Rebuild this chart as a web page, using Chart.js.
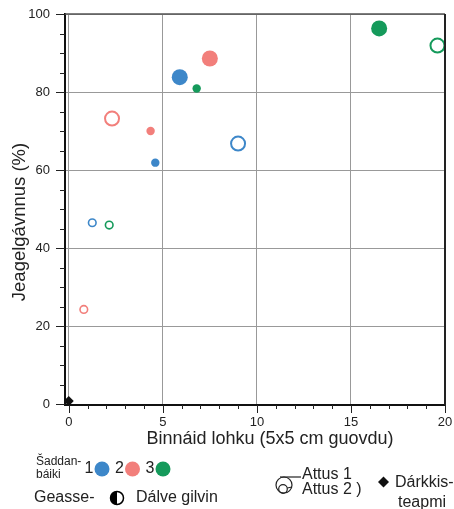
<!DOCTYPE html>
<html>
<head>
<meta charset="utf-8">
<script src="https://cdn.jsdelivr.net/npm/chart.js@4/dist/chart.umd.min.js"></script>
<style>
  html, body { margin: 0; padding: 0; background: #fff; }
  #wrap { width: 454px; height: 509px; }
</style>
</head>
<body>
<div id="wrap"><canvas id="chart" width="454" height="509"></canvas></div>
<script>
// values
// each site: [summer Attus 1, summer Attus 2, winter Attus 1, winter Attus 2]
const site1X = [5.9, 4.6, 9.0, 1.25];
const site1Y = [83.8, 61.9, 66.8, 46.5];
const site2X = [7.5, 4.35, 2.3, 0.8];
const site2Y = [88.6, 70.0, 73.2, 24.3];
const site3X = [16.5, 6.8, 19.6, 2.15];
const site3Y = [96.3, 80.9, 91.9, 45.9];
const seasons = ['Geasse', 'Geasse', 'Dálve', 'Dálve'];
const attus = [1, 2, 1, 2];
const controlX = [0];
const controlY = [0.8];

const xTicks = [0, 5, 10, 15, 20];
const yTicks = [0, 20, 40, 60, 80, 100];

const siteColors = ['#3d87c9', '#f27f7b', '#159a5b'];
const FONT = '"Liberation Sans", Arial, sans-serif';
const TEXT = '#222';

const toPoints = (xs, ys) => xs.map((x, i) => ({ x: x, y: ys[i] }));

const siteDataset = (label, xs, ys, color) => ({
    label: label,
    data: toPoints(xs, ys),
    pointRadius: seasons.map((s, i) => s === 'Geasse' ? (attus[i] === 1 ? 8 : 4.2) : (attus[i] === 1 ? 7 : 3.8)),
    pointBorderWidth: seasons.map((s, i) => s === 'Geasse' ? 0 : (attus[i] === 1 ? 2 : 1.6)),
    pointBackgroundColor: seasons.map(s => s === 'Geasse' ? color : 'rgba(0,0,0,0)'),
    pointBorderColor: color,
    showLine: false
});

const line = (ctx, x1, y1, x2, y2) => {
    ctx.beginPath();
    ctx.moveTo(x1, y1);
    ctx.lineTo(x2, y2);
    ctx.stroke();
};

const dot = (ctx, x, y, r, color) => {
    ctx.beginPath();
    ctx.arc(x, y, r, 0, Math.PI * 2);
    ctx.fillStyle = color;
    ctx.fill();
};

// ticks, frame, axis titles and the legend
const overlay = {
    id: 'overlay',
    afterDraw(chart) {
        const ctx = chart.ctx;
        const area = chart.chartArea;
        const xs = chart.scales.x;
        const ys = chart.scales.y;
        ctx.save();
        ctx.strokeStyle = TEXT;
        ctx.lineWidth = 1;
        for (let v = 0; v <= 20; v++) {
            const px = Math.round(xs.getPixelForValue(v)) + 0.5;
            line(ctx, px, area.bottom, px, area.bottom + (v % 5 === 0 ? 8 : 4));
        }
        for (let v = 0; v <= 100; v += 5) {
            const py = Math.round(ys.getPixelForValue(v)) + 0.5;
            line(ctx, area.left - (v % 20 === 0 ? 9 : 5), py, area.left, py);
        }
        // top and right frame
        ctx.strokeStyle = '#555';
        ctx.lineWidth = 1.5;
        line(ctx, area.left, area.top, area.right, area.top);
        ctx.strokeStyle = '#222';
        ctx.lineWidth = 2;
        line(ctx, area.right, area.top, area.right, area.bottom);

        // axis titles
        ctx.fillStyle = TEXT;
        ctx.font = '18px ' + FONT;
        ctx.textAlign = 'center';
        ctx.textBaseline = 'middle';
        ctx.fillText('Binnáid lohku (5x5 cm guovdu)', 270, 439);
        ctx.save();
        ctx.translate(20, 222);
        ctx.rotate(-Math.PI / 2);
        ctx.font = '18.5px ' + FONT;
        ctx.fillText('Jeagelgávnnus (%)', 0, 0);
        ctx.restore();

        // legend: sites
        ctx.textAlign = 'left';
        ctx.font = '12px ' + FONT;
        ctx.fillText('Šaddan-', 36, 462);
        ctx.fillText('báiki', 36, 475);
        ctx.font = '16px ' + FONT;
        ctx.textAlign = 'center';
        ['1', '2', '3'].forEach((s, i) => {
            const cx = 89 + i * 30.5;
            ctx.fillStyle = TEXT;
            ctx.fillText(s, cx, 469);
            dot(ctx, cx + 13, 469, 7.5, siteColors[i]);
        });

        // legend: seasons
        ctx.textAlign = 'left';
        ctx.fillStyle = TEXT;
        ctx.fillText('Geasse-', 34, 498);
        ctx.fillText('Dálve gilvin', 136, 498);
        dot(ctx, 117, 498, 6.5, '#fff');
        ctx.beginPath();
        ctx.arc(117, 498, 6.5, Math.PI / 2, Math.PI * 1.5);
        ctx.fillStyle = '#000';
        ctx.fill();
        ctx.beginPath();
        ctx.arc(117, 498, 6.5, 0, Math.PI * 2);
        ctx.strokeStyle = '#000';
        ctx.lineWidth = 1.5;
        ctx.stroke();

        // legend: size
        ctx.strokeStyle = TEXT;
        ctx.lineWidth = 1.2;
        ctx.beginPath();
        ctx.arc(284, 485, 8, 0, Math.PI * 2);
        ctx.stroke();
        ctx.beginPath();
        ctx.arc(283, 489, 4.3, 0, Math.PI * 2);
        ctx.stroke();
        line(ctx, 280, 477, 301, 477);
        line(ctx, 287.3, 488, 292, 487);
        ctx.fillStyle = TEXT;
        ctx.fillText('Attus 1', 302, 475);
        ctx.fillText('Attus 2 )', 302, 490);

        // legend: control
        ctx.beginPath();
        ctx.moveTo(383.5, 476.5);
        ctx.lineTo(389, 482);
        ctx.lineTo(383.5, 487.5);
        ctx.lineTo(378, 482);
        ctx.closePath();
        ctx.fillStyle = '#111';
        ctx.fill();
        ctx.fillStyle = TEXT;
        ctx.fillText('Dárkkis-', 395, 483);
        ctx.fillText('teapmi', 398, 503);
        ctx.restore();
    }
};

new Chart(document.getElementById('chart'), {
    type: 'scatter',
    data: {
        datasets: [
            siteDataset('1', site1X, site1Y, siteColors[0]),
            siteDataset('2', site2X, site2Y, siteColors[1]),
            siteDataset('3', site3X, site3Y, siteColors[2]),
            {
                label: 'Dárkkisteapmi',
                data: toPoints(controlX, controlY),
                pointStyle: 'rectRot',
                pointRadius: 5,
                pointBorderWidth: 0,
                pointBackgroundColor: '#111',
                pointBorderColor: '#111'
            }
        ]
    },
    options: {
        responsive: false,
        animation: false,
        layout: { padding: { left: 0, top: 14, right: 7, bottom: 0 } },
        plugins: {
            legend: { display: false },
            tooltip: { enabled: false }
        },
        scales: {
            x: {
                type: 'linear',
                min: -0.2,
                max: 20,
                afterBuildTicks: (scale) => { scale.ticks = xTicks.map(v => ({ value: v })); },
                afterFit: (scale) => {
                    scale.height = 104;
                    scale.paddingLeft = 0;
                    scale.paddingRight = 0;
                },
                grid: { color: '#999', lineWidth: 1, drawTicks: false },
                border: { color: '#111', width: 2 },
                ticks: { color: TEXT, font: { family: FONT, size: 13 }, padding: 10, maxRotation: 0 }
            },
            y: {
                type: 'linear',
                min: -0.2,
                max: 100,
                afterBuildTicks: (scale) => { scale.ticks = yTicks.map(v => ({ value: v })); },
                afterFit: (scale) => {
                    scale.width = 65;
                    scale.paddingTop = 0;
                    scale.paddingBottom = 0;
                },
                grid: { color: '#999', lineWidth: 1, drawTicks: false },
                border: { color: '#111', width: 2 },
                ticks: { color: TEXT, font: { family: FONT, size: 13 }, padding: 15 }
            }
        }
    },
    plugins: [overlay]
});
</script>
</body>
</html>
